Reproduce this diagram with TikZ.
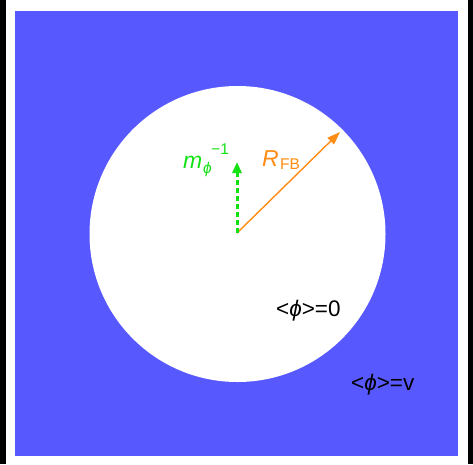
\documentclass[tikz,border=0pt]{standalone}
\usepackage{fontspec}
\setmainfont{Liberation Sans}
\usetikzlibrary{arrows.meta}
\definecolor{bgblue}{RGB}{88,88,255}
\definecolor{fbgreen}{RGB}{20,225,20}
\definecolor{fborange}{RGB}{255,140,20}
\tikzset{
  lbl/.style={inner sep=0pt, anchor=base west},
  big/.style={font=\fontsize{23}{23}\selectfont\itshape},
  small/.style={font=\fontsize{15.5}{15.5}\selectfont},
  mid/.style={font=\fontsize{22.5}{22.5}\selectfont},
}
\begin{document}
\begin{tikzpicture}[x=1pt,y=-1pt]
\useasboundingbox (0,0) rectangle (473,464);
\fill[black] (0,0) rectangle (473,464);
\fill[white] (6,0) rectangle (468,464);
\fill[bgblue] (15,11) rectangle (458,456);
\fill[white] (237.5,234) circle (148);
\coordinate (c) at (237,233);
\coordinate (rtip) at (340,132);
\coordinate (mtip) at (237,162);
\draw[fborange, line width=1.4pt, -{Triangle[length=13pt,width=9pt]}] (c) -- (rtip);
\draw[fbgreen, line width=3pt, dash pattern=on 5pt off 3pt, -{Triangle[length=11pt,width=9pt]}] (c) -- (mtip);
\node[lbl, big, text=fbgreen] (m) at (183,168) {m};
\node[lbl, small, text=fbgreen] (mphi) at (203,173) {\itshape ϕ};
\node[lbl, small, text=fbgreen] (minv) at (211,154) {−1};
\node[lbl, big, text=fborange] (R) at (262,166) {R};
\node[lbl, small, text=fborange] (FB) at (280,169) {FB};
\node[lbl, mid] (in) at (276,316) {<\textit{ϕ}>=0};
\node[lbl, mid] (out) at (351,390) {<\textit{ϕ}>=v};
\end{tikzpicture}
\end{document}
